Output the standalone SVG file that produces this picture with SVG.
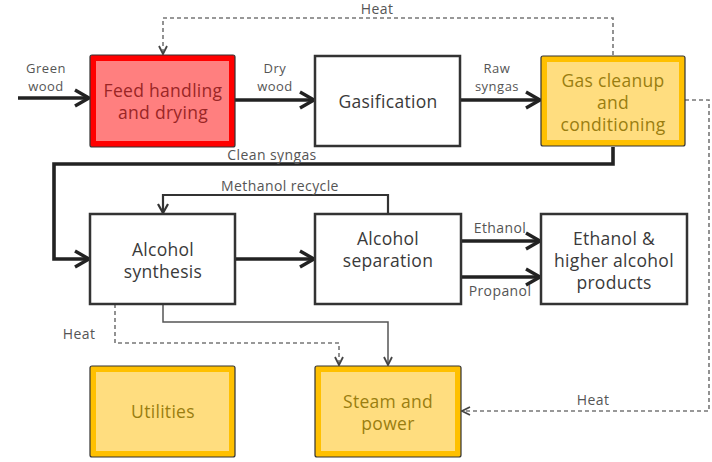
<svg xmlns="http://www.w3.org/2000/svg" width="712" height="462" viewBox="0 0 712 462">
<style>
.lbl{font-family:"Open Sans","Liberation Sans",sans-serif;font-size:14px;letter-spacing:0.4px;fill:#555;text-anchor:middle}
.lbl2{font-size:13px;letter-spacing:0.5px}
.nt{font-family:"Open Sans","Liberation Sans",sans-serif;font-size:17.5px;letter-spacing:0.3px;fill:#3a3a3a;text-anchor:middle}
.nt-red{fill:#9a2626}
.nt-yel{fill:#9a7d10}
.box{fill:#fff;stroke:#333;stroke-width:2.5}
.outer-red{fill:#ff0000;stroke:#333;stroke-width:1.2}
.inner-red{fill:#ff7f7f}
.outer-yel{fill:#ffc000;stroke:#333;stroke-width:1.2}
.inner-yel{fill:#ffdd7f}
.thick{fill:none;stroke:#222;stroke-width:3.6}
.mid{fill:none;stroke:#333;stroke-width:2.2}
.thin{fill:none;stroke:#555;stroke-width:1.5}
.dash{fill:none;stroke:#777;stroke-width:1.6;stroke-dasharray:4 3}
</style>
<defs>
<marker id="ahThick" markerUnits="userSpaceOnUse" markerWidth="20" markerHeight="20" refX="15" refY="9" orient="auto" viewBox="0 0 20 18">
<path d="M1,1 L15,9 L1,17" fill="none" stroke="#222" stroke-width="3.4"/>
</marker>
<marker id="ahMid" markerUnits="userSpaceOnUse" markerWidth="14" markerHeight="14" refX="10" refY="6" orient="auto" viewBox="0 0 14 12">
<path d="M1,1 L10,6 L1,11" fill="none" stroke="#333" stroke-width="2.2"/>
</marker>
<marker id="ahThin" markerUnits="userSpaceOnUse" markerWidth="12" markerHeight="12" refX="9" refY="5" orient="auto" viewBox="0 0 12 10">
<path d="M1,1 L9,5 L1,9" fill="none" stroke="#444" stroke-width="1.8"/>
</marker>
</defs>

<g id="connectors">
<line class="thick" x1="18" y1="98" x2="89" y2="98" marker-end="url(#ahThick)"/>
<line class="thick" x1="235" y1="100" x2="314" y2="100" marker-end="url(#ahThick)"/>
<line class="thick" x1="460" y1="100" x2="540" y2="100" marker-end="url(#ahThick)"/>
<polyline class="dash" points="613,55 613,18 163,18 163,54" marker-end="url(#ahThin)"/>
<polyline class="thick" points="613,147 613,164 54,164 54,259 89,259" marker-end="url(#ahThick)"/>
<line class="thick" x1="235" y1="259" x2="314" y2="259" marker-end="url(#ahThick)"/>
<polyline class="mid" points="388,214 388,195 163,195 163,213" marker-end="url(#ahMid)"/>
<line class="thick" x1="461" y1="241" x2="540" y2="241" marker-end="url(#ahThick)"/>
<line class="thick" x1="461" y1="277" x2="540" y2="277" marker-end="url(#ahThick)"/>
<polyline class="thin" points="163,304 163,322 388,322 388,365" marker-end="url(#ahThin)"/>
<polyline class="dash" points="115,304 115,343 339,343 339,365" marker-end="url(#ahThin)"/>
<polyline class="dash" points="685,100 709,100 709,411 462,411" marker-end="url(#ahThin)"/>

<text class="lbl lbl2" x="46" y="73">Green</text>
<text class="lbl lbl2" x="46" y="91">wood</text>
<text class="lbl lbl2" x="275" y="73">Dry</text>
<text class="lbl lbl2" x="275" y="91">wood</text>
<text class="lbl lbl2" x="497" y="73">Raw</text>
<text class="lbl lbl2" x="497" y="91">syngas</text>
<text class="lbl" x="377" y="14">Heat</text>
<text class="lbl" x="272" y="160">Clean syngas</text>
<text class="lbl" x="280" y="191">Methanol recycle</text>
<text class="lbl" x="500" y="233">Ethanol</text>
<text class="lbl" x="500" y="296">Propanol</text>
<text class="lbl" x="79" y="339">Heat</text>
<text class="lbl" x="593" y="405">Heat</text>
</g>

<g id="feed">
<rect class="outer-red" x="90" y="55" width="145" height="92" rx="2"/>
<rect class="inner-red" x="96" y="61" width="133" height="80"/>
<text class="nt nt-red" x="163" y="97">Feed handling</text>
<text class="nt nt-red" x="163" y="119">and drying</text>
</g>

<g id="gasification">
<rect class="box" x="315" y="56" width="145" height="90"/>
<text class="nt" x="388" y="108">Gasification</text>
</g>

<g id="cleanup">
<rect class="outer-yel" x="541" y="56" width="144" height="90" rx="2"/>
<rect class="inner-yel" x="547" y="62" width="132" height="78"/>
<text class="nt nt-yel" x="613" y="87">Gas cleanup</text>
<text class="nt nt-yel" x="613" y="109">and</text>
<text class="nt nt-yel" x="613" y="131">conditioning</text>
</g>

<g id="synthesis">
<rect class="box" x="90" y="214" width="145" height="90"/>
<text class="nt" x="163" y="256">Alcohol</text>
<text class="nt" x="163" y="278">synthesis</text>
</g>

<g id="separation">
<rect class="box" x="315" y="214" width="146" height="90"/>
<text class="nt" x="388" y="245">Alcohol</text>
<text class="nt" x="388" y="267">separation</text>
</g>

<g id="products">
<rect class="box" x="541" y="214" width="146" height="90"/>
<text class="nt" x="614" y="245">Ethanol &amp;</text>
<text class="nt" x="614" y="267">higher alcohol</text>
<text class="nt" x="614" y="289">products</text>
</g>

<g id="utilities">
<rect class="outer-yel" x="90" y="366" width="145" height="91" rx="2"/>
<rect class="inner-yel" x="96" y="372" width="133" height="79"/>
<text class="nt nt-yel" x="163" y="418">Utilities</text>
</g>

<g id="steam">
<rect class="outer-yel" x="315" y="366" width="146" height="91" rx="2"/>
<rect class="inner-yel" x="321" y="372" width="134" height="79"/>
<text class="nt nt-yel" x="388" y="408">Steam and</text>
<text class="nt nt-yel" x="388" y="430">power</text>
</g>
</svg>
